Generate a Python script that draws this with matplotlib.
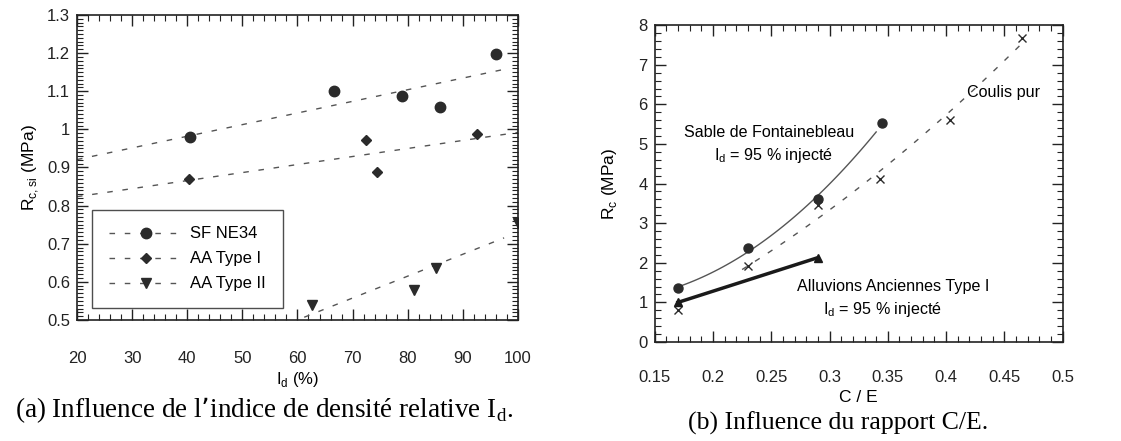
import numpy as np
import matplotlib
matplotlib.use('Agg')
import matplotlib.pyplot as plt
from matplotlib.ticker import MultipleLocator

plt.rcParams['font.family'] = ['Liberation Sans', 'DejaVu Sans']

# (a) Influence de Id
id_sf = [40.5, 66.7, 78.9, 85.8, 96.0]
rc_sf = [0.98, 1.10, 1.087, 1.058, 1.197]
id_aa1 = [40.4, 72.5, 74.5, 92.5]
rc_aa1 = [0.87, 0.971, 0.887, 0.987]
id_aa2 = [62.7, 81.1, 85.1, 100.0]
rc_aa2 = [0.54, 0.579, 0.637, 0.755]

# (b) Influence de C/E
ce_sf = [0.17, 0.23, 0.29, 0.345]
rc_sf_b = [1.36, 2.37, 3.60, 5.52]
ce_coulis = [0.17, 0.23, 0.29, 0.343, 0.403, 0.465]
rc_coulis = [0.81, 1.92, 3.46, 4.12, 5.60, 7.68]
ce_aa = [0.17, 0.29]
rc_aa = [1.0, 2.13]

mk_col = '#2b2b2b'
ln_col = '#555555'

fig = plt.figure(figsize=(11.21, 4.41), dpi=100)
ax1 = fig.add_axes([0.0687, 0.2744, 0.3933, 0.6916])
ax2 = fig.add_axes([0.584, 0.2245, 0.364, 0.7185])

dash = (0, (4, 7))


def short_fmt(v, pos):
    return f'{v:.2f}'.rstrip('0').rstrip('.')


def fit_line(ax, x, y, x0, x1, marker, ms, label):
    p = np.polyfit(x, y, 1)
    xs = np.array([x0, x1])
    ax.plot(xs, np.polyval(p, xs), color=ln_col, lw=1.0, linestyle=dash)
    ax.plot(x, y, linestyle='none', marker=marker, ms=ms, color=mk_col)
    # legend handle: dashed line with marker in the middle
    ax.plot([], [], color=ln_col, lw=1.0, linestyle=dash, marker=marker,
            ms=ms, mfc=mk_col, mec=mk_col, label=label)


fit_line(ax1, id_sf, rc_sf, 20, 97.5, 'o', 7.5, 'SF NE34')
fit_line(ax1, id_aa1, rc_aa1, 20, 100, 'D', 5, 'AA Type I')
fit_line(ax1, id_aa2, rc_aa2, 20, 97.5, 'v', 7, 'AA Type II')

ax1.set_xlim(20, 100)
ax1.set_ylim(0.5, 1.3)
ax1.xaxis.set_major_locator(MultipleLocator(10))
ax1.xaxis.set_minor_locator(MultipleLocator(2))
ax1.yaxis.set_major_locator(MultipleLocator(0.1))
ax1.yaxis.set_minor_locator(MultipleLocator(0.01))
ax1.yaxis.set_major_formatter(plt.FuncFormatter(short_fmt))
ax1.set_xlabel('I$_\\mathregular{d}$ (%)', fontsize=12, labelpad=3)
ax1.set_ylabel('R$_\\mathregular{c,si}$ (MPa)', fontsize=12.5, labelpad=4)
leg = ax1.legend(loc='lower left', bbox_to_anchor=(0.034, 0.039), numpoints=1,
                 handlelength=4.5, fontsize=12, frameon=True, fancybox=False,
                 borderpad=1.0, labelspacing=0.6, handletextpad=0.4,
                 borderaxespad=0)
leg.get_frame().set_edgecolor('#222222')
leg.get_frame().set_linewidth(1.0)

# (b)
p_sf = np.polyfit(ce_sf, rc_sf_b, 2)
xs = np.linspace(0.17, 0.34, 50)
ax2.plot(xs, np.polyval(p_sf, xs), color=ln_col, lw=1.0)
ax2.plot(ce_sf, rc_sf_b, linestyle='none', marker='o', ms=6.5, color=mk_col)

p_co = np.polyfit(ce_coulis, rc_coulis, 2)
xs = np.linspace(0.225, 0.463, 50)
ax2.plot(xs, np.polyval(p_co, xs), color=ln_col, lw=1.0, linestyle=(0, (4, 7)))
ax2.plot(ce_coulis, rc_coulis, linestyle='none', marker='x', ms=6, mew=1.0,
         color=mk_col)

ax2.plot(ce_aa, rc_aa, color='#1a1a1a', lw=2.5, marker='^', ms=6)

fs_txt = 11.6
ax2.text(0.248, 5.28, 'Sable de Fontainebleau', ha='center', va='center',
         fontsize=fs_txt)
ax2.text(0.252, 4.72, 'I$_\\mathregular{d}$ = 95 % injecté', ha='center',
         va='center', fontsize=fs_txt)
ax2.text(0.449, 6.31, 'Coulis pur', ha='center', va='center', fontsize=fs_txt)
ax2.text(0.355, 1.39, 'Alluvions Anciennes Type I', ha='center', va='center',
         fontsize=fs_txt)
ax2.text(0.345, 0.83, 'I$_\\mathregular{d}$ = 95 % injecté', ha='center',
         va='center', fontsize=fs_txt)

ax2.set_xlim(0.15, 0.5)
ax2.set_ylim(0, 8)
ax2.xaxis.set_major_locator(MultipleLocator(0.05))
ax2.xaxis.set_minor_locator(MultipleLocator(0.01))
ax2.yaxis.set_major_locator(MultipleLocator(1))
ax2.yaxis.set_minor_locator(MultipleLocator(0.2))
ax2.xaxis.set_major_formatter(plt.FuncFormatter(short_fmt))
ax2.set_xlabel('C / E', fontsize=12.5, labelpad=4)
ax2.set_ylabel('R$_\\mathregular{c}$ (MPa)', fontsize=12.5, labelpad=14)

for ax in (ax1, ax2):
    ax.tick_params(which='both', direction='in', top=True, right=True,
                   colors='#222222', labelcolor='#222222', labelsize=12)
    ax.tick_params(which='major', length=8, width=1.0)
    ax.tick_params(which='minor', length=4, width=0.8)
    ax.tick_params(axis='y', which='major', pad=5)
    for s in ax.spines.values():
        s.set_linewidth(1.2)
        s.set_color('#222222')
ax1.tick_params(axis='x', which='major', pad=22)
ax2.tick_params(axis='x', which='major', pad=20)

fig.text(264 / 1121, 1 - 410 / 441,
         "(a) Influence de l’indice de densité relative I$_\\mathregular{d}$.",
         ha='center', va='center', fontsize=19.5, family='Liberation Serif')
fig.text(838 / 1121, 1 - 423 / 441, '(b) Influence du rapport C/E.',
         ha='center', va='center', fontsize=18.5, family='Liberation Serif')

fig.savefig('out.png', dpi=100)
